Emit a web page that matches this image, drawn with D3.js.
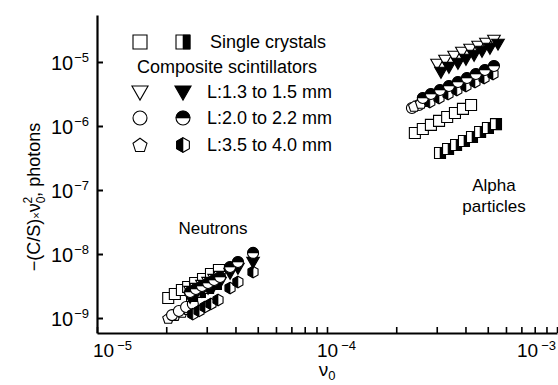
<!DOCTYPE html>
<html>
<head>
<meta charset="utf-8">
<script src="https://cdn.jsdelivr.net/npm/d3@7"></script>
<style>
  body { margin: 0; background: #fff; }
  svg { display: block; font-family: "Liberation Sans", Arial, sans-serif; }
</style>
</head>
<body>
<div id="chart"></div>
<script>
// ---- data ----
// x: nu0, y: -(C/S) x nu0^2 (photons)

// neutrons
const nSqOpenX = [2.04e-5, 2.18e-5, 2.34e-5, 2.49e-5, 2.67e-5, 2.89e-5, 3.13e-5, 3.39e-5];
const nSqOpenY = [2.05e-9, 2.37e-9, 2.74e-9, 3.05e-9, 3.52e-9, 4.07e-9, 4.87e-9, 5.62e-9];
const nSqHalfX = [2.59e-5, 2.80e-5, 3.04e-5, 3.29e-5];
const nSqHalfY = [2.21e-9, 2.55e-9, 2.94e-9, 3.40e-9];
const nPentX = [2.04e-5, 2.18e-5, 2.34e-5, 2.49e-5];
const nPentY = [1.00e-9, 1.11e-9, 1.24e-9, 1.38e-9];
const nCircOpenX = [2.12e-5, 2.27e-5, 2.44e-5, 2.61e-5];
const nCircOpenY = [1.11e-9, 1.29e-9, 1.49e-9, 1.66e-9];
const nHexX = [2.61e-5, 2.78e-5, 2.95e-5, 3.13e-5, 3.36e-5, 3.79e-5, 4.10e-5, 4.77e-5];
const nHexY = [1.15e-9, 1.29e-9, 1.49e-9, 1.66e-9, 1.91e-9, 2.94e-9, 3.65e-9, 5.23e-9];
const nTriOpenX = [2.54e-5, 2.69e-5, 2.86e-5, 3.04e-5, 3.23e-5, 3.43e-5];
const nTriOpenY = [2.64e-9, 2.94e-9, 3.28e-9, 3.65e-9, 4.07e-9, 4.53e-9];
const nTriFillX = [2.54e-5, 2.69e-5, 2.86e-5, 3.04e-5, 3.23e-5, 3.43e-5, 3.79e-5, 4.10e-5, 4.77e-5];
const nTriFillY = [2.13e-9, 2.37e-9, 2.64e-9, 2.94e-9, 3.28e-9, 3.65e-9, 5.05e-9, 6.04e-9, 7.50e-9];
const nCircHalfX = [2.54e-5, 2.69e-5, 2.86e-5, 3.04e-5, 3.23e-5, 3.43e-5, 3.79e-5, 4.10e-5, 4.77e-5];
const nCircHalfY = [2.55e-9, 2.84e-9, 3.16e-9, 3.52e-9, 3.92e-9, 4.37e-9, 6.26e-9, 7.50e-9, 1.04e-8];

// alpha particles
const aSqOpenX = [2.41e-4, 2.61e-4, 2.83e-4, 3.07e-4, 3.33e-4, 3.60e-4, 3.90e-4, 4.23e-4];
const aSqOpenY = [7.78e-7, 8.98e-7, 1.04e-6, 1.20e-6, 1.38e-6, 1.60e-6, 1.85e-6, 2.13e-6];
const aSqHalfX = [3.10e-4, 3.36e-4, 3.64e-4, 3.94e-4, 4.27e-4, 4.63e-4, 5.01e-4, 5.43e-4];
const aSqHalfY = [3.79e-7, 4.37e-7, 5.05e-7, 5.83e-7, 6.73e-7, 8.06e-7, 9.31e-7, 1.07e-6];
const aPentX = [2.39e-4, 2.56e-4, 2.75e-4];
const aPentY = [2.05e-6, 2.29e-6, 2.64e-6];
const aCircOpenX = [2.34e-4, 2.51e-4, 2.69e-4];
const aCircOpenY = [1.91e-6, 2.13e-6, 2.46e-6];
const aHexX = [2.80e-4, 3.07e-4, 3.36e-4, 3.67e-4, 4.02e-4, 4.40e-4, 4.82e-4, 5.27e-4];
const aHexY = [2.37e-6, 2.74e-6, 3.16e-6, 3.65e-6, 4.22e-6, 4.87e-6, 5.62e-6, 6.49e-6];
const aCircHalfX = [2.61e-4, 2.83e-4, 3.10e-4, 3.39e-4, 3.71e-4, 4.06e-4, 4.44e-4, 4.86e-4, 5.32e-4];
const aCircHalfY = [2.74e-6, 3.16e-6, 3.65e-6, 4.22e-6, 4.87e-6, 5.62e-6, 6.49e-6, 7.50e-6, 8.66e-6];
const aTriOpenX = [3.01e-4, 3.26e-4, 3.57e-4, 3.86e-4, 4.19e-4, 4.54e-4, 4.91e-4, 5.32e-4];
const aTriOpenY = [9.31e-6, 1.075e-5, 1.241e-5, 1.433e-5, 1.596e-5, 1.778e-5, 1.982e-5, 2.207e-5];
const aTriFillX = [3.13e-4, 3.39e-4, 3.71e-4, 4.02e-4, 4.36e-4, 4.72e-4, 5.11e-4, 5.54e-4];
const aTriFillY = [6.98e-6, 8.35e-6, 9.65e-6, 1.114e-5, 1.286e-5, 1.486e-5, 1.655e-5, 1.914e-5];

// axes
const xMajor = [1e-5, 1e-4, 1e-3];
const xMajorExp = ["\u22125", "\u22124", "\u22123"];
const yMajor = [1e-9, 1e-8, 1e-7, 1e-6, 1e-5];
const yMajorExp = ["\u22129", "\u22128", "\u22127", "\u22126", "\u22125"];

const legendRows = [
  { left: ["square", "open"], right: ["square", "half"], text: "Single crystals" },
  { left: ["triangle", "open"], right: ["triangle", "solid"], text: "L:1.3 to 1.5 mm" },
  { left: ["circle", "open"], right: ["circle", "half"], text: "L:2.0 to 2.2 mm" },
  { left: ["pentagon", "open"], right: ["hexagon", "half"], text: "L:3.5 to 4.0 mm" },
];

// draw order (back to front)
const series = [
  { shape: "square", fill: "open", xs: nSqOpenX, ys: nSqOpenY },
  { shape: "pentagon", fill: "open", xs: nPentX, ys: nPentY },
  { shape: "circle", fill: "open", xs: nCircOpenX, ys: nCircOpenY },
  { shape: "square", fill: "half", xs: nSqHalfX, ys: nSqHalfY },
  { shape: "hexagon", fill: "half", xs: nHexX, ys: nHexY },
  { shape: "triangle", fill: "open", xs: nTriOpenX, ys: nTriOpenY },
  { shape: "triangle", fill: "solid", xs: nTriFillX, ys: nTriFillY },
  { shape: "circle", fill: "half", xs: nCircHalfX, ys: nCircHalfY },
  { shape: "square", fill: "open", xs: aSqOpenX, ys: aSqOpenY },
  { shape: "square", fill: "half", xs: aSqHalfX, ys: aSqHalfY },
  { shape: "circle", fill: "open", xs: aCircOpenX, ys: aCircOpenY },
  { shape: "pentagon", fill: "open", xs: aPentX, ys: aPentY },
  { shape: "hexagon", fill: "half", xs: aHexX, ys: aHexY },
  { shape: "circle", fill: "half", xs: aCircHalfX, ys: aCircHalfY },
  { shape: "triangle", fill: "open", xs: aTriOpenX, ys: aTriOpenY },
  { shape: "triangle", fill: "solid", xs: aTriFillX, ys: aTriFillY },
];

// ---- layout ----
const W = 558, H = 385;
const margin = { top: 15, right: 1, bottom: 52, left: 97 };

const x = d3.scaleLog()
  .domain([1e-5, 1e-3])
  .range([margin.left, W - margin.right]);
const y = d3.scaleLog()
  .domain([Math.pow(10, -9.234), Math.pow(10, -4.266)])
  .range([H - margin.bottom, margin.top]);

const svg = d3.select("#chart").append("svg")
  .attr("width", W)
  .attr("height", H)
  .attr("viewBox", [0, 0, W, H]);

// ---- marker shapes ----
function poly(pts) {
  return "M" + pts.map(p => p[0].toFixed(2) + "," + p[1].toFixed(2)).join("L") + "Z";
}
function shapePath(shape, r) {
  if (shape === "square") return poly([[-r, -r], [r, -r], [r, r], [-r, r]]);
  if (shape === "triangle") return poly([[-r * 1.15, -r * 0.85], [r * 1.15, -r * 0.85], [0, r * 1.15]]);
  if (shape === "circle") return `M${-r},0A${r},${r} 0 1,0 ${r},0A${r},${r} 0 1,0 ${-r},0Z`;
  if (shape === "pentagon") {
    return poly(d3.range(5).map(k => {
      const a = -Math.PI / 2 + k * 2 * Math.PI / 5;
      return [r * 1.05 * Math.cos(a), r * 1.05 * Math.sin(a) + 0.6];
    }));
  }
  if (shape === "hexagon") {
    return poly(d3.range(6).map(k => {
      const a = -Math.PI / 2 + k * Math.PI / 3;
      return [r * 1.05 * Math.cos(a), r * 1.05 * Math.sin(a)];
    }));
  }
}
function halfPath(shape, r) {
  if (shape === "square") return poly([[0, -r], [r, -r], [r, r], [0, r]]);
  if (shape === "circle") return `M${-r},0A${r},${r} 0 0,1 ${r},0Z`;
  if (shape === "hexagon") {
    const c = Math.cos(Math.PI / 6) * r * 1.05, s = r * 1.05;
    return poly([[0, -s], [-c, -s / 2], [-c, s / 2], [0, s]]);
  }
  return null;
}
function drawMarker(g, shape, fill, r) {
  g.append("path")
    .attr("d", shapePath(shape, r))
    .attr("fill", fill === "solid" ? "#000" : "#fff")
    .attr("stroke", "#000")
    .attr("stroke-width", 1.1);
  if (fill === "half") {
    g.append("path")
      .attr("d", halfPath(shape, r))
      .attr("fill", "#000")
      .attr("stroke", "#000")
      .attr("stroke-width", 0.6);
  }
}

// ---- axes ----
const yAxis = d3.axisLeft(y)
  .tickValues(yMajor)
  .tickSizeInner(-6)
  .tickSizeOuter(0)
  .tickFormat("");
const xTicks = [];
[1e-5, 1e-4].forEach(d => d3.range(1, 10).forEach(k => xTicks.push(d * k)));
xTicks.push(1e-3);
const xAxis = d3.axisBottom(x)
  .tickValues(xTicks)
  .tickSizeInner(-6)
  .tickSizeOuter(0)
  .tickFormat("");

svg.append("g")
  .attr("transform", `translate(${margin.left},0)`)
  .call(yAxis)
  .call(g => g.select(".domain").attr("stroke-width", 2.2))
  .call(g => g.selectAll(".tick line").attr("stroke-width", 2));
svg.append("g")
  .attr("transform", `translate(0,${H - margin.bottom})`)
  .call(xAxis)
  .call(g => g.select(".domain").attr("stroke-width", 2.2))
  .call(g => g.selectAll(".tick line").attr("stroke-width", 1.6));

// y tick labels
const yLab = svg.append("g").attr("font-size", 20).attr("fill", "#000");
yMajor.forEach((v, i) => {
  const t = yLab.append("text")
    .attr("x", 89)
    .attr("y", y(v) + 8)
    .attr("text-anchor", "end");
  t.append("tspan").text("10");
  t.append("tspan").attr("font-size", 13).attr("dx", 1).attr("dy", -8).text(yMajorExp[i]);
});

// x tick labels
const xOff = [-4, -10, -40];
const xLab = svg.append("g").attr("font-size", 19).attr("fill", "#000");
xMajor.forEach((v, i) => {
  const t = xLab.append("text")
    .attr("x", x(v) + xOff[i])
    .attr("y", 357);
  t.append("tspan").text("10");
  t.append("tspan").attr("font-size", 13).attr("dx", 3).attr("dy", -7).text(xMajorExp[i]);
});

// axis titles
const xt = svg.append("text")
  .attr("x", 327)
  .attr("y", 376)
  .attr("text-anchor", "middle")
  .attr("font-size", 19);
xt.append("tspan").text("\u03bd");
xt.append("tspan").attr("font-size", 13).attr("dy", 4).text("0");

const yt = svg.append("text")
  .attr("transform", "translate(40,197) rotate(-90)")
  .attr("text-anchor", "middle")
  .attr("font-size", 18);
yt.append("tspan").text("\u2212(C/S)");
yt.append("tspan").attr("font-size", 11).text("\u00d7");
yt.append("tspan").text("\u03bd");
yt.append("tspan").attr("font-size", 12).attr("dy", 5).text("0");
yt.append("tspan").attr("font-size", 12).attr("dx", -7).attr("dy", -13).text("2");
yt.append("tspan").attr("dy", 8).text(", photons");

// ---- data markers ----
const marks = svg.append("g").attr("class", "marks");
series.forEach(s => {
  s.xs.forEach((xv, i) => {
    const g = marks.append("g")
      .attr("transform", `translate(${x(xv)},${y(s.ys[i])})`);
    drawMarker(g, s.shape, s.fill, 5.5);
  });
});

// ---- annotations ----
svg.append("text")
  .attr("x", 213).attr("y", 234)
  .attr("text-anchor", "middle")
  .attr("font-size", 17)
  .text("Neutrons");
svg.append("text")
  .attr("x", 494).attr("y", 191)
  .attr("text-anchor", "middle")
  .attr("font-size", 17)
  .text("Alpha");
svg.append("text")
  .attr("x", 494).attr("y", 212)
  .attr("text-anchor", "middle")
  .attr("font-size", 17)
  .text("particles");

// ---- legend ----
const legend = svg.append("g").attr("font-size", 18);
const rowY = [42, 92, 118, 145];
legendRows.forEach((r, i) => {
  drawMarker(legend.append("g").attr("transform", `translate(140,${rowY[i]})`), r.left[0], r.left[1], 7);
  drawMarker(legend.append("g").attr("transform", `translate(183,${rowY[i]})`), r.right[0], r.right[1], 7);
  legend.append("text")
    .attr("x", i === 0 ? 210 : 207)
    .attr("y", rowY[i] + 6)
    .text(r.text);
});
legend.append("text")
  .attr("x", 137)
  .attr("y", 73)
  .text("Composite scintillators");
</script>
</body>
</html>
